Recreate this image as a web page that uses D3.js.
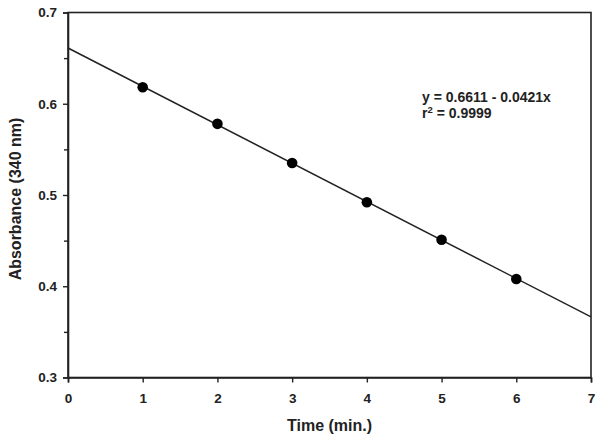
<!DOCTYPE html>
<html><head><meta charset="utf-8">
<script src="https://cdn.jsdelivr.net/npm/d3@7"></script>
<style>body{margin:0;background:#fff}svg{display:block}text{font-family:"Liberation Sans",Arial,sans-serif;font-weight:bold;fill:#222}</style>
</head><body>
<script>
const times = [1, 2, 3, 4, 5, 6];
const absorbance = [0.618, 0.578, 0.535, 0.492, 0.451, 0.408];
const intercept = 0.6611, slope = -0.0421;
const xTicks = [0, 1, 2, 3, 4, 5, 6, 7];
const yTicks = [0.3, 0.4, 0.5, 0.6, 0.7];
const yMinor = [0.35, 0.45, 0.55, 0.65];

const W = 600, H = 442;
const m = {l: 68, r: 9, t: 12.5, b: 64.5};
const svg = d3.select("body").append("svg").attr("width", W).attr("height", H);
const x = d3.scaleLinear().domain([0, 7]).range([m.l, W - m.r]);
const y = d3.scaleLinear().domain([0.3, 0.7]).range([H - m.b, m.t]);
const col = "#222";

svg.append("rect").attr("x", x(0)).attr("y", y(0.7)).attr("width", x(7) - x(0)).attr("height", y(0.3) - y(0.7))
  .attr("fill", "none").attr("stroke", col).attr("stroke-width", 1.6);

svg.append("g").attr("transform", `translate(0,${y(0.3)})`)
  .call(d3.axisBottom(x).tickValues(xTicks).tickFormat(d3.format("d")).tickSize(5).tickPadding(11));
svg.append("g").attr("transform", `translate(${x(0)},0)`)
  .call(d3.axisLeft(y).tickValues(yTicks).tickFormat(d3.format(".1f")).tickSize(5).tickPadding(6));
svg.append("g").attr("transform", `translate(${x(0)},0)`)
  .call(d3.axisLeft(y).tickValues(yMinor).tickFormat("").tickSize(4)).select(".domain").remove();
svg.selectAll(".domain").attr("stroke", col).attr("stroke-width", 1.6);
svg.selectAll(".tick line").attr("stroke", col).attr("stroke-width", 1.4);
svg.selectAll(".tick text").attr("font-size", 13.5).attr("font-family", "Liberation Sans, Arial, sans-serif")
  .attr("font-weight", "bold").attr("fill", "#222");

svg.append("line").attr("x1", x(0)).attr("y1", y(intercept)).attr("x2", x(7)).attr("y2", y(intercept + slope * 7))
  .attr("stroke", col).attr("stroke-width", 1.5);

svg.selectAll("circle.pt").data(times).enter().append("circle").attr("class", "pt")
  .attr("cx", (d) => x(d)).attr("cy", (d, i) => y(absorbance[i])).attr("r", 5.3).attr("fill", "#000");

svg.append("text").attr("x", 422).attr("y", 102).attr("font-size", 14).text("y = 0.6611 - 0.0421x");
const ann2 = svg.append("text").attr("x", 422).attr("y", 118).attr("font-size", 14);
ann2.append("tspan").text("r");
ann2.append("tspan").attr("dy", -5).attr("font-size", 9.5).text("2");
ann2.append("tspan").attr("dy", 5).text(" = 0.9999");

svg.append("text").attr("x", 329.5).attr("y", 431).attr("text-anchor", "middle").attr("font-size", 16).text("Time (min.)");
svg.append("text").attr("transform", `translate(21,199) rotate(-90)`).attr("text-anchor", "middle")
  .attr("font-size", 16).text("Absorbance (340 nm)");
</script>
</body></html>
